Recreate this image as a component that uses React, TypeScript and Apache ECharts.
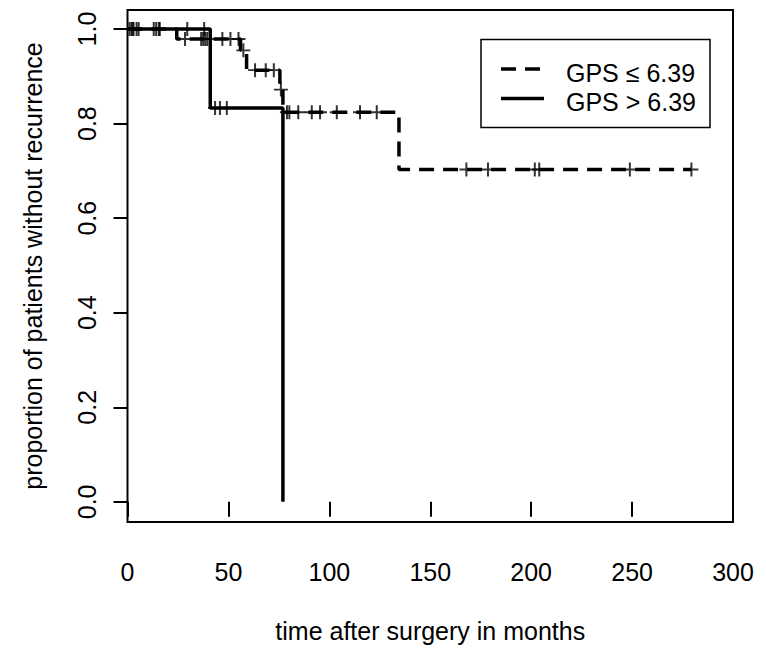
import React, { useEffect, useRef } from "react";
import * as echarts from "echarts";

// Kaplan-Meier step points (time in months, proportion without recurrence)
const lowTimes = [0, 24.4, 56, 59, 75.5, 77, 134.5, 279.4];
const lowSurv = [1.0, 0.979, 0.955, 0.913, 0.872, 0.824, 0.703, 0.703];
const highTimes = [0, 41, 77];
const highSurv = [1.0, 0.833, 0.0];

// censoring marks
const lowCensorTimes = [1, 2, 3, 4.5, 5.5, 13, 14.2, 15.5, 28.5, 36.5, 37.5, 38.5, 39.5, 47, 51, 55, 57.4, 63.2, 68.5, 72.5, 76, 79, 80.2, 84.6, 91.3, 95.4, 103.7, 115.2, 123.5, 167.9, 178.6, 201.8, 204, 248.9, 279.4];
const lowCensorSurv = [1, 1, 1, 1, 1, 1, 1, 1, 0.979, 0.979, 0.979, 0.979, 0.979, 0.979, 0.979, 0.979, 0.955, 0.913, 0.913, 0.913, 0.872, 0.824, 0.824, 0.824, 0.824, 0.824, 0.824, 0.824, 0.824, 0.703, 0.703, 0.703, 0.703, 0.703, 0.703];
const highCensorTimes = [2.5, 16, 29.6, 38, 43.4, 45.8, 49.2];
const highCensorSurv = [1, 1, 1, 1, 0.833, 0.833, 0.833];

const yTickValues = [0, 0.2, 0.4, 0.6, 0.8, 1.0];
const legendLabels = ["GPS \u2264 6.39", "GPS > 6.39"];

const FONT = "'Liberation Sans', Arial, Helvetica, sans-serif";
const PLUS =
  "path://M-1,-7L1,-7L1,-0.9L7,-0.9L7,0.9L1,0.9L1,7L-1,7L-1,0.9L-7,0.9L-7,-0.9L-1,-0.9Z";

export default function App() {
  const ref = useRef<HTMLDivElement>(null);
  useEffect(() => {
    document.body.style.margin = "0";
    const chart = echarts.init(ref.current!, null, { renderer: "svg" });
    const pairs = (xs: number[], ys: number[]) => xs.map((x, i) => [x, ys[i]]);
    chart.setOption({
      animation: false,
      backgroundColor: "#fff",
      grid: {
        left: 127.5,
        right: 33,
        top: 10,
        bottom: 119.3,
        show: true,
        borderColor: "#000",
        borderWidth: 2,
        backgroundColor: "transparent",
      },
      xAxis: {
        type: "value",
        min: 0,
        max: 300,
        interval: 50,
        name: "time after surgery in months",
        nameLocation: "middle",
        nameGap: 96,
        nameTextStyle: { fontFamily: FONT, fontSize: 25, color: "#000" },
        axisLine: { show: false },
        axisTick: { show: true, length: 15, lineStyle: { color: "#000", width: 2 } },
        axisLabel: { margin: 37, fontFamily: FONT, fontSize: 25, color: "#000" },
        splitLine: { show: false },
      },
      yAxis: {
        type: "value",
        min: -0.0426,
        max: 1.0403,
        name: "proportion of patients without recurrence",
        nameLocation: "middle",
        nameGap: 82,
        nameTextStyle: { fontFamily: FONT, fontSize: 25, color: "#000" },
        axisLine: { show: false },
        axisTick: {
          show: true,
          length: 14,
          customValues: yTickValues,
          lineStyle: { color: "#000", width: 2 },
        },
        axisLabel: {
          rotate: 90,
          margin: 28,
          customValues: yTickValues,
          formatter: (v: number) => v.toFixed(1),
          fontFamily: FONT,
          fontSize: 25,
          color: "#000",
        },
        splitLine: { show: false },
      },
      series: [
        {
          name: legendLabels[0],
          type: "line",
          step: "end",
          symbol: "none",
          data: pairs(lowTimes, lowSurv),
          lineStyle: { color: "#000", width: 3.5, type: [15, 9] },
          z: 2,
        },
        {
          name: legendLabels[1],
          type: "line",
          step: "end",
          symbol: "none",
          data: pairs(highTimes, highSurv),
          lineStyle: { color: "#000", width: 3.5, type: "solid" },
          z: 2,
        },
        {
          type: "scatter",
          symbol: PLUS,
          symbolSize: 14,
          data: pairs(lowCensorTimes, lowCensorSurv),
          itemStyle: { color: "#000" },
          z: 3,
        },
        {
          type: "scatter",
          symbol: PLUS,
          symbolSize: 14,
          data: pairs(highCensorTimes, highCensorSurv),
          itemStyle: { color: "#000" },
          z: 3,
        },
      ],
      graphic: [
        {
          type: "rect",
          shape: { x: 481, y: 39.5, width: 229, height: 88 },
          style: { fill: "#fff", stroke: "#000", lineWidth: 1.5 },
          z: 10,
        },
        {
          type: "line",
          shape: { x1: 501, y1: 69, x2: 541, y2: 69 },
          style: { stroke: "#000", lineWidth: 3.5, lineDash: [15, 9] },
          z: 11,
        },
        {
          type: "line",
          shape: { x1: 501, y1: 98.5, x2: 544, y2: 98.5 },
          style: { stroke: "#000", lineWidth: 3.5 },
          z: 11,
        },
        {
          type: "text",
          x: 566,
          y: 73,
          style: {
            text: legendLabels[0],
            font: `25px ${FONT}`,
            fill: "#000",
            verticalAlign: "middle",
            align: "left",
          },
          z: 11,
        },
        {
          type: "text",
          x: 566,
          y: 102,
          style: {
            text: legendLabels[1],
            font: `25px ${FONT}`,
            fill: "#000",
            verticalAlign: "middle",
            align: "left",
          },
          z: 11,
        },
      ],
    });
    return () => chart.dispose();
  }, []);
  return <div ref={ref} style={{ width: 766, height: 648 }} />;
}
